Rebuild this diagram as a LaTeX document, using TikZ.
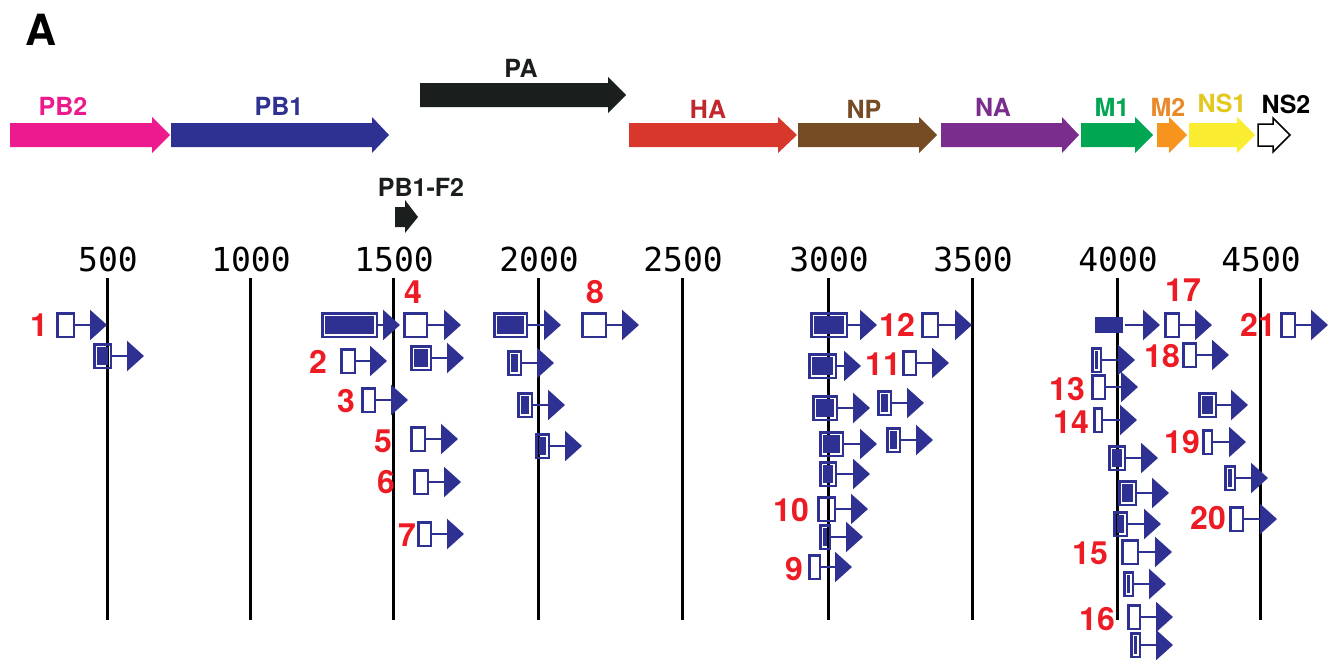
\documentclass[tikz,border=0pt]{standalone}
\usepackage{xcolor}
\usepackage{fontspec}
\newfontfamily\helv{TeX Gyre Heros}
\newfontfamily\ticks{DejaVu Sans Mono}
\usepackage{tikz}
\usetikzlibrary{arrows.meta, positioning}

\definecolor{orfblue}{HTML}{2E3192}
\definecolor{numred}{HTML}{ED1C24}
\definecolor{pbtwo}{HTML}{EC1A8C}
\definecolor{pbone}{HTML}{2E3192}
\definecolor{pacol}{HTML}{1A1F1E}
\definecolor{hacol}{HTML}{D7382B}
\definecolor{hatext}{HTML}{C1272D}
\definecolor{npcol}{HTML}{754C24}
\definecolor{nacol}{HTML}{7B2D8E}
\definecolor{monecol}{HTML}{00A651}
\definecolor{mtwocol}{HTML}{F7941D}
\definecolor{mtwotext}{HTML}{E8892A}
\definecolor{nsonecol}{HTML}{F9EC31}
\definecolor{nsonetext}{HTML}{E3C81E}

\begin{document}
\begin{tikzpicture}[x=1pt, y=-1pt,
  every node/.style={inner sep=0pt, outer sep=0pt},
  gene/.style={font=\helv\bfseries\fontsize{25}{30}\selectfont},
  num/.style={font=\helv\bfseries\fontsize{32}{36}\selectfont, text=numred},
  tick/.style={font=\ticks\fontsize{33}{36}\selectfont},
  grid/.style={line width=3pt, black},
  orfbox/.style={rectangle, draw=orfblue, line width=2.5pt, minimum height=23.5pt},
  orffull/.style={orfbox, path picture={\fill[orfblue] ([shift={(3pt,-3pt)}]path picture bounding box.north west) rectangle ([shift={(-3pt,3pt)}]path picture bounding box.south east);}},
  orfsolid/.style={rectangle, fill=orfblue, minimum height=16pt},
  orfarrow/.style={draw=orfblue, line width=2.5pt, -{Triangle[length=17pt, width=30pt]}}]
\useasboundingbox (0,0) rectangle (1333,661);

\node [font=\helv\bfseries\fontsize{43}{48}\selectfont] (panel) at (41,30) {A};

\fill [pbtwo] (10,123) -- (152,123) -- (152,117) -- (170,135) -- (152,153) -- (152,147) -- (10,147) -- cycle;
\node [gene, text=pbtwo] (lpbtwo) at (63,106) {PB2};
\fill [pbone] (171,123) -- (372,123) -- (372,117) -- (389,135) -- (372,153) -- (372,147) -- (171,147) -- cycle;
\node [gene, text=pbone] (lpbone) at (279,106) {PB1};
\fill [pacol] (420,83) -- (608,83) -- (608,77) -- (626,95) -- (608,113) -- (608,107) -- (420,107) -- cycle;
\node [gene, text=pacol] (lpa) at (521,68) {PA};
\fill [hacol] (629,123) -- (778,123) -- (778,117) -- (797,135) -- (778,153) -- (778,147) -- (629,147) -- cycle;
\node [gene, text=hatext] (lha) at (708,109) {HA};
\fill [npcol] (798,123) -- (919,123) -- (919,117) -- (937,135) -- (919,153) -- (919,147) -- (798,147) -- cycle;
\node [gene, text=npcol] (lnp) at (864,109) {NP};
\fill [nacol] (941,123) -- (1062,123) -- (1062,117) -- (1079,135) -- (1062,153) -- (1062,147) -- (941,147) -- cycle;
\node [gene, text=nacol] (lna) at (993,107) {NA};
\fill [monecol] (1081,123) -- (1135,123) -- (1135,117) -- (1153,135) -- (1135,153) -- (1135,147) -- (1081,147) -- cycle;
\node [gene, text=monecol] (lmone) at (1112,107) {M1};
\fill [mtwocol] (1157,123) -- (1169,123) -- (1169,117) -- (1187,135) -- (1169,153) -- (1169,147) -- (1157,147) -- cycle;
\node [gene, text=mtwotext] (lmtwo) at (1168,107) {M2};
\fill [nsonecol] (1189,123) -- (1237,123) -- (1237,117) -- (1255,135) -- (1237,153) -- (1237,147) -- (1189,147) -- cycle;
\node [gene, text=nsonetext] (lnsone) at (1222,103) {NS1};
\draw [line width=1.5pt, fill=white] (1258,124) -- (1273,124) -- (1273,118) -- (1290,135) -- (1273,152) -- (1273,146) -- (1258,146) -- cycle;
\node [gene] (lnstwo) at (1286,104) {NS2};

\fill [pacol] (395,207) -- (405,207) -- (405,200) -- (418,217) -- (405,233) -- (405,227) -- (395,227) -- cycle;
\node [gene, text=pacol] (lpbfii) at (421,187) {PB1-F2};

\node [tick] (t500) at (108,259) {500};
\node [tick] (t1000) at (251,259) {1000};
\node [tick] (t1500) at (394,259) {1500};
\node [tick] (t2000) at (539,259) {2000};
\node [tick] (t2500) at (683,259) {2500};
\node [tick] (t3000) at (829,259) {3000};
\node [tick] (t3500) at (973,259) {3500};
\node [tick] (t4000) at (1118,259) {4000};
\node [tick] (t4500) at (1261,259) {4500};
\draw [grid] (107,278) -- (107,620);
\draw [grid] (250,278) -- (250,620);
\draw [grid] (393,278) -- (393,620);
\draw [grid] (538,278) -- (538,620);
\draw [grid] (682,278) -- (682,620);
\draw [grid] (828,278) -- (828,620);
\draw [grid] (972,278) -- (972,620);
\draw [grid] (1117,278) -- (1117,620);
\draw [grid] (1260,278) -- (1260,620);

\node [orfbox, minimum width=16.5pt] (orf1) at (65.5,325) {};
\draw [orfarrow] (orf1.east) -- (107,325);
\node [num] (lab1) at (39,325) {1};
\node [orffull, minimum width=16.5pt] (frame1) at (102.5,356) {};
\draw [orfarrow] (frame1.east) -- (144,356);

\node [orffull, minimum width=54.5pt] (frame2) at (349.5,325) {};
\draw [orfarrow] (frame2.east) -- (400,325);
\node [orfbox, minimum width=22.5pt] (orf4) at (415.5,325) {};
\draw [orfarrow] (orf4.east) -- (461,325);
\node [num] (lab4) at (413,292) {4};
\node [orfbox, minimum width=13.5pt] (orf2) at (348,361) {};
\draw [orfarrow] (orf2.east) -- (387,361);
\node [num] (lab2) at (318,362) {2};
\node [orffull, minimum width=19.5pt] (frame3) at (421,358) {};
\draw [orfarrow] (frame3.east) -- (464,358);
\node [orfbox, minimum width=12.5pt] (orf3) at (368.5,400) {};
\draw [orfarrow] (orf3.east) -- (408,400);
\node [num] (lab3) at (346,401) {3};
\node [orfbox, minimum width=13.5pt] (orf5) at (418,439) {};
\draw [orfarrow] (orf5.east) -- (458,439);
\node [num] (lab5) at (383,441) {5};
\node [orfbox, minimum width=13.5pt] (orf6) at (421,482) {};
\draw [orfarrow] (orf6.east) -- (461,482);
\node [num] (lab6) at (386,482) {6};
\node [orfbox, minimum width=12.5pt] (orf7) at (424.5,534) {};
\draw [orfarrow] (orf7.east) -- (464,534);
\node [num] (lab7) at (407,535) {7};

\node [orffull, minimum width=32.5pt] (frame4) at (510.5,325) {};
\draw [orfarrow] (frame4.east) -- (561,325);
\node [orffull, minimum width=12.5pt] (frame5) at (514.5,363) {};
\draw [orfarrow] (frame5.east) -- (554,363);
\node [orffull, minimum width=13.5pt] (frame6) at (525,405) {};
\draw [orfarrow] (frame6.east) -- (565,405);
\node [orffull, minimum width=12.5pt] (frame7) at (542.5,446) {};
\draw [orfarrow] (frame7.east) -- (582,446);
\node [orfbox, minimum width=23.5pt] (orf8) at (594,325) {};
\draw [orfarrow] (orf8.east) -- (639,325);
\node [num] (lab8) at (595,292) {8};

\node [orffull, minimum width=35.5pt] (frame8) at (829,325) {};
\draw [orfarrow] (frame8.east) -- (877,325);
\node [orfbox, minimum width=15.5pt] (orf12) at (930,325) {};
\draw [orfarrow] (orf12.east) -- (972,325);
\node [num] (lab12) at (897,325) {12};
\node [orffull, minimum width=26.5pt] (frame9) at (822.5,366) {};
\draw [orfarrow] (frame9.east) -- (861,366);
\node [orfbox, minimum width=12.5pt] (orf11) at (909.5,363) {};
\draw [orfarrow] (orf11.east) -- (949,363);
\node [num] (lab11) at (883,364) {11};
\node [orffull, minimum width=23.5pt] (frame10) at (825,408) {};
\draw [orfarrow] (frame10.east) -- (870,408);
\node [orffull, minimum width=12.5pt] (frame11) at (884.5,403) {};
\draw [orfarrow] (frame11.east) -- (924,403);
\node [orffull, minimum width=22.5pt] (frame12) at (831.5,444) {};
\draw [orfarrow] (frame12.east) -- (877,444);
\node [orffull, minimum width=12.5pt] (frame13) at (893.5,440) {};
\draw [orfarrow] (frame13.east) -- (933,440);
\node [orffull, minimum width=15.5pt] (frame14) at (828,474) {};
\draw [orfarrow] (frame14.east) -- (870,474);
\node [orfbox, minimum width=16.5pt] (orf10) at (826.5,509) {};
\draw [orfarrow] (orf10.east) -- (868,509);
\node [num] (lab10) at (791,510) {10};
\node [orffull, minimum width=9.5pt] (frame15) at (825,537) {};
\draw [orfarrow] (frame15.east) -- (863,537);
\node [orfbox, minimum width=10.5pt] (orf9) at (814.5,567) {};
\draw [orfarrow] (orf9.east) -- (852,567);
\node [num] (lab9) at (794,569) {9};

\node [orfsolid, minimum width=28pt] (frame16) at (1109,325) {};
\draw [orfarrow] ([xshift=2pt]frame16.east) -- (1160,325);
\node [orfbox, minimum width=13.5pt] (orf17) at (1172,325) {};
\draw [orfarrow] (orf17.east) -- (1212,325);
\node [num] (lab17) at (1183,290) {17};
\node [orfbox, minimum width=13.5pt] (orf21) at (1288,325) {};
\draw [orfarrow] (orf21.east) -- (1328,325);
\node [num] (lab21) at (1258,325) {21};
\node [orffull, minimum width=8.5pt] (frame17) at (1096.5,360) {};
\draw [orfarrow] (frame17.east) -- (1135,360);
\node [orfbox, minimum width=12.5pt] (orf18) at (1189.5,355) {};
\draw [orfarrow] (orf18.east) -- (1229,355);
\node [num] (lab18) at (1162,356) {18};
\node [orfbox, minimum width=12.5pt] (orf13) at (1098.5,387) {};
\draw [orfarrow] (orf13.east) -- (1138,387);
\node [num] (lab13) at (1067,389) {13};
\node [orffull, minimum width=16.5pt] (frame18) at (1207.5,405) {};
\draw [orfarrow] (frame18.east) -- (1248,405);
\node [orfbox, minimum width=7.5pt] (orf14) at (1098,420) {};
\draw [orfarrow] (orf14.east) -- (1137,420);
\node [num] (lab14) at (1071,422) {14};
\node [orfbox, minimum width=8.5pt] (orf19) at (1207.5,442) {};
\draw [orfarrow] (orf19.east) -- (1246,442);
\node [num] (lab19) at (1182,442) {19};
\node [orffull, minimum width=15.5pt] (frame19) at (1117,458) {};
\draw [orfarrow] (frame19.east) -- (1158,458);
\node [orffull, minimum width=9.5pt] (frame20) at (1230,478) {};
\draw [orfarrow] (frame20.east) -- (1268,478);
\node [orffull, minimum width=16.5pt] (frame21) at (1127.5,493) {};
\draw [orfarrow] (frame21.east) -- (1169,493);
\node [orfbox, minimum width=12.5pt] (orf20) at (1236.5,519) {};
\draw [orfarrow] (orf20.east) -- (1277,519);
\node [num] (lab20) at (1208,518) {20};
\node [orffull, minimum width=12.5pt] (frame22) at (1120.5,524) {};
\draw [orfarrow] (frame22.east) -- (1161,524);
\node [orfbox, minimum width=15.5pt] (orf15) at (1130,552) {};
\draw [orfarrow] (orf15.east) -- (1172,552);
\node [num] (lab15) at (1090,553) {15};
\node [orffull, minimum width=8.5pt] (frame23) at (1128.5,584) {};
\draw [orfarrow] (frame23.east) -- (1166,584);
\node [orfbox, minimum width=11.5pt] (orf16) at (1134,617) {};
\draw [orfarrow] (orf16.east) -- (1173,617);
\node [num] (lab16) at (1097,619) {16};
\node [orffull, minimum width=8.5pt] (frame24) at (1135.5,645) {};
\draw [orfarrow] (frame24.east) -- (1173,645);
\end{tikzpicture}
\end{document}
